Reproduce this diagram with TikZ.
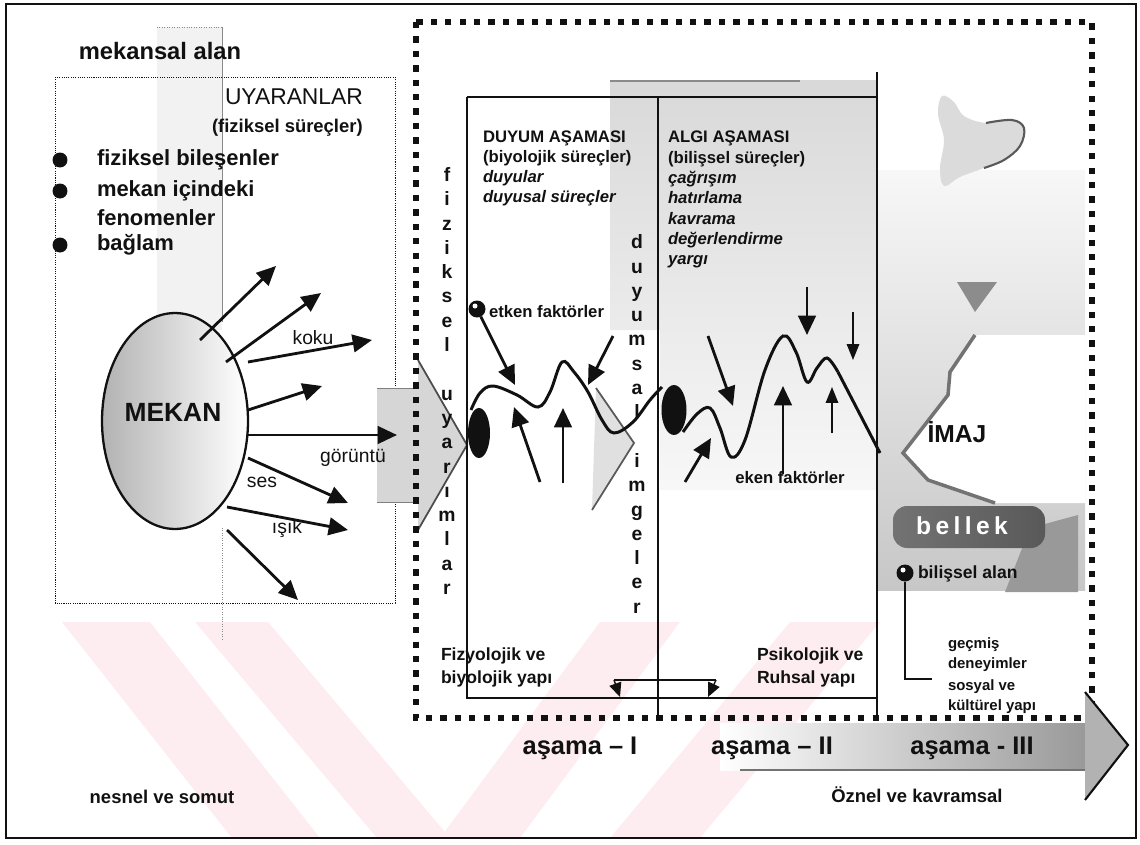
\documentclass[tikz,border=0pt]{standalone}
\usepackage{fontspec}
\setmainfont{Liberation Sans}
\usetikzlibrary{arrows.meta,positioning,calc,shapes.geometric}
\definecolor{Ink}{HTML}{111111}
\definecolor{SpeckDark}{HTML}{8A8A8A}
\definecolor{Blush}{HTML}{FDEDF0}
\newcommand{\sz}[2]{\fontsize{#1}{#2}\selectfont}

\begin{document}
\begin{tikzpicture}[x=0.02cm,y=-0.02cm,
    every node/.style={inner sep=0pt,outer sep=0pt,text=Ink},
    arw/.style={-{Triangle[length=11pt,width=10pt]},line width=1.6pt,Ink},
    smallarw/.style={-{Triangle[length=9pt,width=7pt]},line width=1pt,Ink},
    frameline/.style={line width=1.1pt,Ink},
    wave/.style={line width=1.7pt,Ink},
    bigdots/.style={line width=3.6pt,dash pattern=on 3.6pt off 4.6pt,Ink},
    finedots/.style={line width=0.5pt,dash pattern=on 0.6pt off 0.7pt,Ink},
    vtext/.style={align=center,font=\bfseries\sz{11}{13.83}},
    dot/.style={circle,fill=Ink,minimum size=0.3cm},
    pinmark/.style={circle,fill=Ink,minimum size=0.34cm}]
  \useasboundingbox (0,0) rectangle (1140,845);

  % watermark bands
  \fill[Blush] (62,622) -- (150,622) -- (320,838) -- (232,838) -- cycle;
  \fill[Blush] (195,622) -- (268,622) -- (450,838) -- (377,838) -- cycle;
  \fill[Blush] (600,622) -- (680,622) -- (520,838) -- (440,838) -- cycle;
  \fill[Blush] (790,622) -- (880,622) -- (700,838) -- (610,838) -- cycle;

  % outer frame
  \draw[line width=1pt,Ink] (6,4) rectangle (1136,838);

  % speckled backgrounds
  \fill[black!5] (157,27) rectangle (222,330);
  \draw[SpeckDark,densely dotted] (157,27) -- (222,27);
  \draw[SpeckDark,line width=0.4pt] (222,27) -- (222,322);
  \draw[SpeckDark,line width=0.4pt,densely dotted] (222,528) -- (222,640);
  \shade[top color=black!15,bottom color=black!3] (610,80) -- (877,80) -- (877,490) -- (660,490) -- (660,330) -- (610,330) -- cycle;
  \draw[SpeckDark,line width=1.5pt] (610,81) -- (800,81);
  \shade[top color=black!3,bottom color=black!22] (877,170) rectangle (1085,590);
  \fill[black!14] plot[smooth cycle,tension=0.6] coordinates {(942,96) (954,102) (964,116) (986,123) (1012,120) (1024,128) (1020,146) (1004,160) (984,168) (960,177) (944,186) (940,168) (944,140) (938,114)};
  \draw[black!65,line width=1.2pt] plot[smooth,tension=0.6] coordinates {(986,123) (1012,120) (1024,128) (1020,146) (1004,160) (984,168)};
  \fill[black!45] (957,282) -- (997,282) -- (975,312) -- cycle;
  \fill[white] (975,335) -- (950,372) -- (948,395) -- (903,453) -- (928,480) -- (995,503) -- (1085,503) -- (1085,335) -- cycle;
  \draw[black!55,line width=2pt] (975,335) -- (950,372) -- (948,395) -- (903,453) -- (928,480) -- (995,503);
  \fill[black!40] (1030,528) -- (1078,515) -- (1078,592) -- (1005,592) -- cycle;
  \shade[left color=black!55,right color=black!65,rounded corners=8pt] (893,506) rectangle (1045,548);

  % stimuli box
  \draw[finedots] (55,77) rectangle (395,603);
  \node[font=\bfseries\sz{13.5}{16}] (alan) at (160,51) {mekansal alan};
  \node[anchor=west,font=\sz{13}{15}] (uyaran) at (225,97) {UYARANLAR};
  \node[anchor=west,font=\bfseries\sz{10.5}{12}] (surec) at (212,128) {(fiziksel süreçler)};
  \node[dot] (b1) at (60,160) {};
  \node[dot] (b2) at (60,191) {};
  \node[dot] (b3) at (60,245) {};
  \node[anchor=west,font=\bfseries\sz{12.5}{15}] (t1) at (97,160) {fiziksel bileşenler};
  \node[anchor=west,font=\bfseries\sz{12.5}{15}] (t2) at (97,191) {mekan içindeki};
  \node[anchor=west,font=\bfseries\sz{12.5}{15}] (t2b) at (97,218) {fenomenler};
  \node[anchor=west,font=\bfseries\sz{12.5}{15}] (t3) at (97,245) {bağlam};

  % block arrow into stage I
  \fill[black!16] (377,388) -- (418,388) -- (418,360) -- (467,445) -- (418,530) -- (418,502) -- (377,502) -- cycle;
  \draw[black!70,line width=1pt] (418,360) -- (467,445) -- (418,530);
  \draw[black!50,line width=0.5pt] (377,388) -- (418,388) (377,502) -- (418,502);

  % space ellipse and its stimuli
  \node[draw=Ink,line width=1.3pt,ellipse,minimum width=2.92cm,minimum height=4.32cm,left color=black!30,middle color=white,right color=white] (mekan) at (175,421) {};
  \node[font=\bfseries\sz{15}{18}] (mekanlbl) at (173,412) {MEKAN};
  \foreach \i/\sx/\sy/\ex/\ey in {a/200/340/276/266,b/226/362/321/293,c/248/362/372/340,d/248/410/322/386,e/248/435/397/435,f/248/458/348/503,g/227/507/348/530,h/227/530/298/600}{
    \coordinate (s\i) at (\sx,\sy);
    \coordinate (e\i) at (\ex,\ey);
    \draw[arw] (s\i) -- (e\i);
  }
  \node[font=\sz{11}{13}] (koku) at (313,338) {koku};
  \node[font=\sz{11}{13}] (goruntu) at (353,458) {görüntü};
  \node[font=\sz{11}{13}] (ses) at (262,482) {ses};
  \node[font=\sz{11}{13}] (isik) at (287,529) {ışık};

  % stage II speck arrowhead
  \fill[black!12] (596,388) -- (634,443) -- (592,510) -- cycle;
  \draw[black!65,line width=1pt] (596,388) -- (634,443) -- (592,510);

  % big dotted frame
  \draw[bigdots] (416,22) rectangle (1092,718);

  % stage frame
  \draw[frameline] (467,97) -- (877,97);
  \draw[frameline] (467,97) -- (467,698) -- (877,698);
  \draw[frameline] (658,97) -- (658,718);
  \draw[frameline] (877,72) -- (877,718);

  % vertical words
  \node[vtext] (fizuy) at (447,381) {f\\i\\z\\i\\k\\s\\e\\l\\~\\u\\y\\a\\r\\ı\\m\\l\\a\\r};
  \node[vtext] (duyim) at (637,424) {d\\u\\y\\u\\m\\s\\a\\l\\~\\i\\m\\g\\e\\l\\e\\r};

  % stage headings
  \node[anchor=north west,align=left,font=\bfseries\sz{9.5}{11.3}] (duyum) at (483,131) {DUYUM AŞAMASI\\(biyolojik süreçler)\\\textit{duyular}\\\textit{duyusal süreçler}};
  \node[anchor=north west,align=left,font=\bfseries\sz{9.5}{11.6}] (algi) at (668,131) {ALGI AŞAMASI\\(bilişsel süreçler)\\\textit{çağrışım}\\\textit{hatırlama}\\\textit{kavrama}\\\textit{değerlendirme}\\\textit{yargı}};

  % waves
  \draw[wave] plot[smooth,tension=0.6] coordinates {(471,410) (480,393) (493,386) (517,395) (538,407) (550,392) (562,362) (574,372) (588,392) (602,420) (614,433) (633,422) (650,400) (662,387)};
  \draw[wave] plot[smooth,tension=0.6] coordinates {(683,432) (697,414) (710,408) (720,428) (731,457) (745,440) (765,370) (783,336) (796,352) (807,382) (817,368) (827,358) (838,372)};
  \draw[wave] (838,372) -- (880,453);
  \node[ellipse,fill=Ink,minimum width=0.44cm,minimum height=1.0cm] (cell1) at (479,433) {};
  \node[ellipse,fill=Ink,minimum width=0.5cm,minimum height=1.0cm] (cell2) at (674,410) {};

  % factors
  \node[pinmark] (pinA) at (477,309) {};
  \fill[white] (475,306) circle[radius=2.5];
  \node[anchor=west,font=\bfseries\sz{9.5}{11}] (etken) at (489,312) {etken faktörler};
  \node[font=\bfseries\sz{9.5}{11}] (eken) at (790,478) {eken faktörler};
  \coordinate (f1) at (515,385);
  \draw[arw] (pinA) -- (f1);
  \foreach \i/\sx/\sy/\ex/\ey in {2/540/482/514/407,3/563/483/563/408,4/613/336/588/385,5/685/482/711/438,6/708/336/733/406,7/783/474/783/386,8/807/287/807/335}{
    \coordinate (fs\i) at (\sx,\sy);
    \coordinate (fe\i) at (\ex,\ey);
    \draw[arw] (fs\i) -- (fe\i);
  }
  \foreach \i/\sx/\sy/\ex/\ey in {9/853/312/853/360,10/832/433/832/387}{
    \coordinate (fs\i) at (\sx,\sy);
    \coordinate (fe\i) at (\ex,\ey);
    \draw[smallarw] (fs\i) -- (fe\i);
  }

  % bracket between stages
  \coordinate (brl) at (614,680);
  \coordinate (brr) at (716,680);
  \coordinate (brlt) at (620,697);
  \coordinate (brrt) at (708,697);
  \draw[line width=0.8pt,Ink] (brl) -- (brr);
  \draw[-{Triangle[length=8pt,width=7pt]},line width=0.8pt,Ink] (brl) -- (brlt);
  \draw[-{Triangle[length=8pt,width=7pt]},line width=0.8pt,Ink] (brr) -- (brrt);

  % image and memory
  \node[font=\bfseries\sz{14}{16}] (imaj) at (957,432) {İMAJ};
  \node[font=\bfseries\sz{14}{16}\addfontfeature{LetterSpace=18},text=white] (bellek) at (962,526) {bellek};
  \node[pinmark] (pinB) at (905,573) {};
  \fill[white] (903,570) circle[radius=2.5];
  \node[anchor=west,font=\bfseries\sz{10}{12}] (bilis) at (918,574) {bilişsel alan};
  \coordinate (tailB) at (932,679);
  \draw[line width=1.3pt,Ink] (pinB.south) |- (tailB);
  \node[anchor=north west,align=left,font=\bfseries\sz{8.5}{11.3}] (gecmis) at (948,638) {geçmiş\\deneyimler};
  \node[anchor=north west,align=left,font=\bfseries\sz{8.5}{11.3}] (sosyal) at (948,680) {sosyal ve\\kültürel yapı};

  % structures
  \node[anchor=north west,align=left,font=\bfseries\sz{10}{13}] (fizyo) at (441,648) {Fizyolojik ve\\biyolojik yapı};
  \node[anchor=north west,align=left,font=\bfseries\sz{10}{13}] (psiko) at (757,648) {Psikolojik ve\\Ruhsal yapı};

  % stage arrow
  \shade[left color=white,right color=black!40] (720,723) rectangle (1086,770);
  \draw[black!55,line width=1pt] (740,770) -- (1086,770);
  \fill[black!30] (1085,692) -- (1128,745) -- (1085,800) -- cycle;
  \draw[Ink,line width=1.2pt] (1085,692) -- (1128,745) -- (1085,800);
  \node[font=\bfseries\sz{14.5}{17}] (as1) at (580,748) {aşama – I};
  \node[font=\bfseries\sz{14.5}{17}] (as2) at (772,748) {aşama – II};
  \node[font=\bfseries\sz{14.5}{17}] (as3) at (972,748) {aşama - III};

  \node[font=\bfseries\sz{10.5}{12}] (nesnel) at (162,797) {nesnel ve somut};
  \node[font=\bfseries\sz{10.5}{12}] (oznel) at (917,795) {Öznel ve kavramsal};
\end{tikzpicture}
\end{document}
